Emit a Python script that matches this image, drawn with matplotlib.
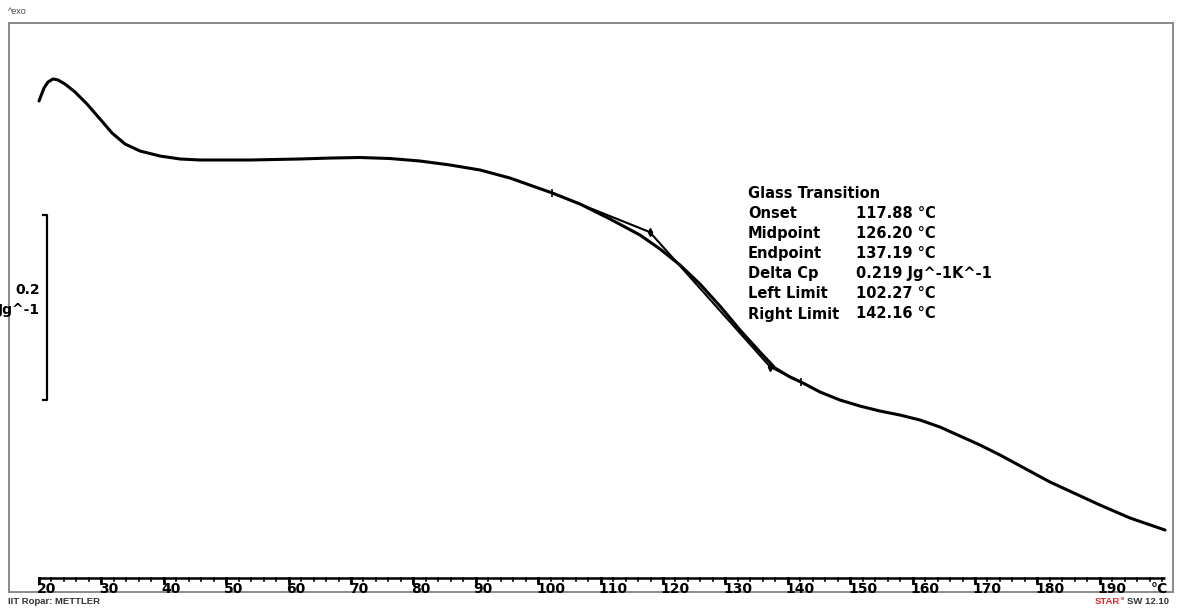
"""DSC thermogram with glass transition evaluation (Mettler STAR style)."""

import matplotlib

matplotlib.use("Agg")
import matplotlib.pyplot as plt

W, H = 1180, 611

# ---------------------------------------------------------------------------
# Data
# ---------------------------------------------------------------------------
temperature = [20.0, 20.8, 21.44, 22.24, 23.04, 24.17, 25.77, 27.69, 29.78,
               31.70, 33.78, 36.19, 39.39, 42.60, 45.80, 53.81, 61.83, 66.63,
               71.44, 76.25, 81.06, 85.87, 90.67, 95.48, 102.27, 106.70,
               111.51, 116.31, 119.52, 122.72, 125.93, 129.13, 132.34, 135.54,
               137.95, 140.35, 142.44, 145.16, 148.37, 151.57, 154.78, 157.98,
               161.19, 164.39, 167.60, 170.80, 174.01, 182.02, 190.03, 194.84,
               200.45]
heat_flow = [0.5276, 0.5416, 0.5481, 0.5514, 0.5503, 0.5459, 0.5373, 0.5243,
             0.5081, 0.4930, 0.4811, 0.4735, 0.4681, 0.4649, 0.4638, 0.4638,
             0.4649, 0.4659, 0.4665, 0.4654, 0.4627, 0.4584, 0.4530, 0.4443,
             0.4281, 0.4162, 0.4000, 0.3827, 0.3676, 0.3503, 0.3297, 0.3059,
             0.2800, 0.2562, 0.2389, 0.2292, 0.2227, 0.2130, 0.2043, 0.1978,
             0.1924, 0.1881, 0.1827, 0.1751, 0.1654, 0.1557, 0.1449, 0.1157,
             0.0908, 0.0768, 0.0638]

# glass transition construction: left limit, onset, endpoint, right limit
gt_temp = [102.27, 117.88, 137.19, 142.16]
gt_flow = [0.4281, 0.3859, 0.2400, 0.2238]

result_labels = ["Onset", "Midpoint", "Endpoint", "Delta Cp", "Left Limit",
                 "Right Limit"]
result_values = ["117.88 °C", "126.20 °C", "137.19 °C", "0.219 Jg^-1K^-1",
                 "102.27 °C", "142.16 °C"]

major_ticks = list(range(20, 200, 10))
minor_ticks = list(range(20, 201, 2))
tick_labels = [str(t) for t in major_ticks]

scale_bar = 0.2  # height of scale bar in heat-flow units

# ---------------------------------------------------------------------------
fig = plt.figure(figsize=(W / 100, H / 100), dpi=100)
ax = fig.add_axes([9 / W, 1 - 592 / H, 1164 / W, 569 / H])
ax.set_xlim(15.19, 201.73)
ax.set_ylim(-0.0032, 0.6119)
ax.set_xticks([])
ax.set_yticks([])
for sp in ax.spines.values():
    sp.set_color("#8a8a8a")
    sp.set_linewidth(1.4)

ax.plot(temperature, heat_flow, color="black", lw=2.2,
        solid_capstyle="round", solid_joinstyle="round", zorder=3)

# evaluation lines
ax.plot(gt_temp, gt_flow, color="black", lw=1.5, zorder=4)
ax.plot([gt_temp[0], gt_temp[-1]], [gt_flow[0], gt_flow[-1]], ls="none",
        marker="|", ms=6, mew=1.2, color="black", zorder=5)
ax.plot(gt_temp[1:3], gt_flow[1:3], ls="none", marker="d", ms=4,
        color="black", zorder=5)

# temperature axis inside the frame
xt = ax.get_xaxis_transform()
ax.plot([20, 200.5], [0.0246, 0.0246], color="black", lw=1.8,
        transform=xt, solid_capstyle="butt")
for t in minor_ticks:
    ax.plot([t, t], [0.0246, 0.0195], color="black", lw=1.2, transform=xt)
for t, lab in zip(major_ticks, tick_labels):
    ax.plot([t, t], [0.0246, 0.0165], color="black", lw=2.0, transform=xt)
    ax.text(t - 0.35, -0.002, lab, transform=xt, ha="left", va="baseline",
            fontsize=10, fontweight="bold")
ax.text(200.9, -0.002, "°C", transform=xt, ha="right", va="baseline",
        fontsize=10, fontweight="bold")

# scale bar
bar_top = 0.4043
ax.plot([20.64, 21.28, 21.28, 20.64],
        [bar_top, bar_top, bar_top - scale_bar, bar_top - scale_bar],
        color="black", lw=1.6, clip_on=False)
ax.text(20.16, 0.3232, f"{scale_bar}", ha="right", va="center",
        fontsize=10, fontweight="bold", clip_on=False)
ax.text(20.16, 0.3016, "Jg^-1", ha="right", va="center",
        fontsize=10, fontweight="bold", clip_on=False)

# results block
fig.text(748 / W, 1 - 193 / H, "Glass Transition", ha="left", va="center",
         fontsize=10.5, fontweight="bold")
for i, (lab, val) in enumerate(zip(result_labels, result_values)):
    y = 1 - (213 + i * 20.2) / H
    fig.text(748 / W, y, lab, ha="left", va="center", fontsize=10.5,
             fontweight="bold")
    fig.text(856 / W, y, val, ha="left", va="center", fontsize=10.5,
             fontweight="bold")

# page annotations
fig.text(8 / W, 1 - 12 / H, "^exo", ha="left", va="center", fontsize=6.5,
         color="#444444", family="Liberation Sans")
fig.text(8 / W, 1 - 601 / H, "IIT Ropar: METTLER", ha="left", va="center",
         fontsize=6.8, color="#333333", family="Liberation Sans",
         fontweight="bold")
fig.text(1120 / W, 1 - 601 / H, "STAR", ha="right", va="center",
         fontsize=6.8, color="#e8262a", family="Liberation Sans",
         fontweight="bold")
fig.text(1121 / W, 1 - 598 / H, "e", ha="left", va="center", fontsize=4.2,
         color="#e8262a", family="Liberation Sans", fontweight="bold")
fig.text(1169 / W, 1 - 601 / H, "SW 12.10", ha="right", va="center",
         fontsize=6.8, color="#333333", family="Liberation Sans",
         fontweight="bold")

fig.savefig("out.png", dpi=100)
